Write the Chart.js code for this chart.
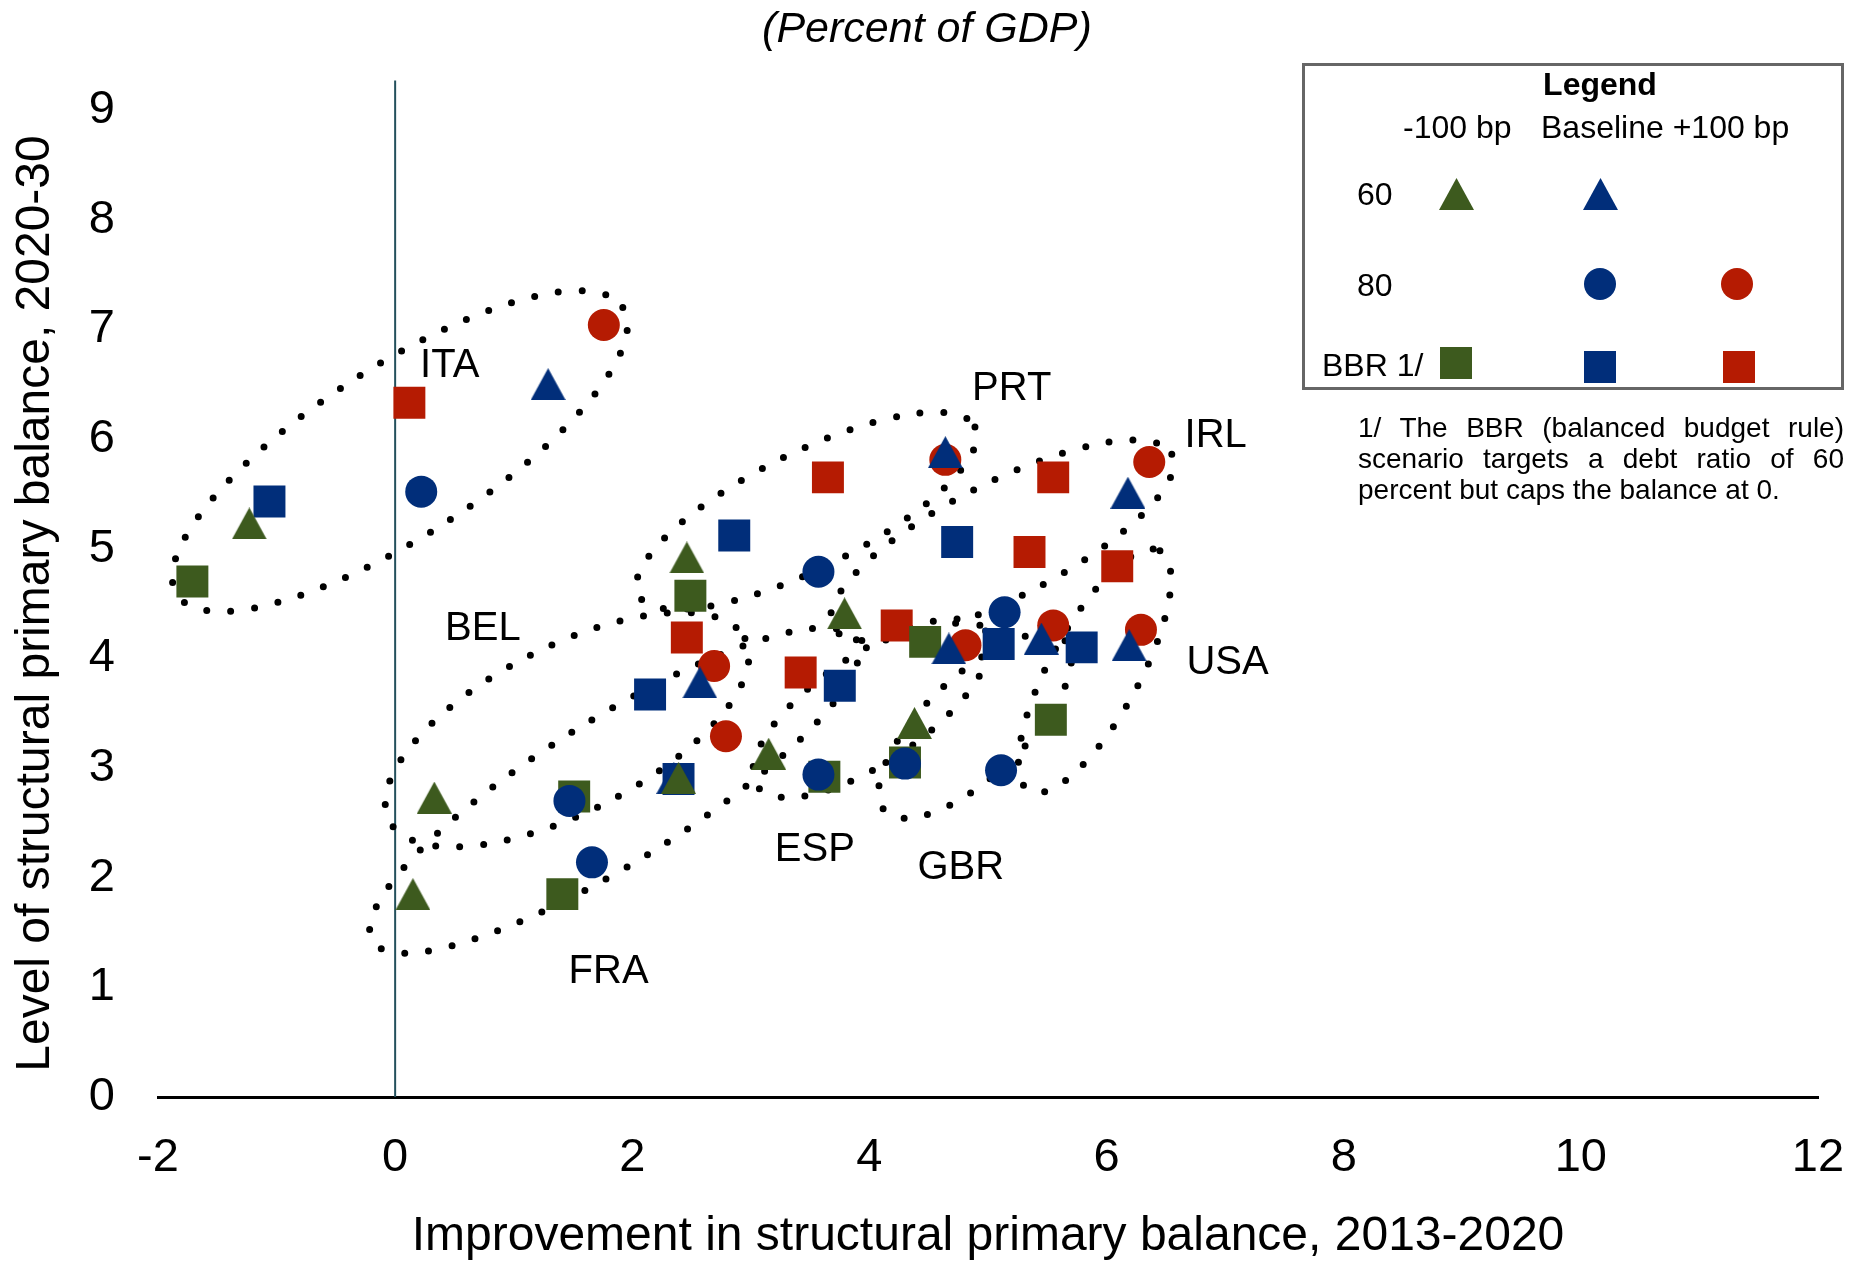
<!DOCTYPE html>
<html>
<head>
<meta charset="utf-8">
<script src="https://cdn.jsdelivr.net/npm/chart.js@4.4.0/dist/chart.umd.min.js"></script>
<style>
  html, body { margin: 0; padding: 0; background: #fff; }
  #wrap { position: relative; width: 1864px; height: 1261px; font-family: "Liberation Sans", Arial, sans-serif; color: #000; }
  #chart { position: absolute; left: 0; top: 0; }
  .title { position: absolute; left: 0; width: 1854px; top: 6px; text-align: center; font-style: italic; font-size: 43px; line-height: 1; }
  #legendBox { position: absolute; left: 1302px; top: 63px; width: 542px; height: 327px; box-sizing: border-box; border: 3px solid #666; }
  .lt { position: absolute; font-size: 32px; line-height: 1; white-space: nowrap; }
  .mk { position: absolute; }
  .tri { width: 35px; height: 32px; clip-path: polygon(50% 0, 100% 100%, 0 100%); }
  .sq { width: 32px; height: 32px; }
  .circ { width: 32px; height: 32px; border-radius: 50%; }
  .note { position: absolute; left: 1358px; top: 412px; width: 486px; font-size: 28px; line-height: 31px; text-align: justify; }
</style>
</head>
<body>
<div id="wrap">
  <canvas id="chart" width="1864" height="1261"></canvas>
  <div class="title">(Percent of GDP)</div>
  <div id="legendBox"></div>
  <div class="lt" style="left:1600px; top:68px; transform:translateX(-50%); font-weight:bold;">Legend</div>
  <div class="lt" style="left:1403px; top:111px;">-100 bp</div>
  <div class="lt" style="left:1541px; top:111px;">Baseline +100 bp</div>
  <div class="lt" style="left:1357px; top:178px;">60</div>
  <div class="lt" style="left:1357px; top:269px;">80</div>
  <div class="lt" style="left:1322px; top:349px;">BBR 1/</div>
  <div class="mk tri" style="left:1439px; top:178px; background:#3d5a1e;"></div>
  <div class="mk tri" style="left:1583px; top:178px; background:#012e7a;"></div>
  <div class="mk circ" style="left:1584px; top:268px; background:#012e7a;"></div>
  <div class="mk circ" style="left:1721px; top:268px; background:#b51b02;"></div>
  <div class="mk sq" style="left:1440px; top:347px; background:#3d5a1e;"></div>
  <div class="mk sq" style="left:1584px; top:351px; background:#012e7a;"></div>
  <div class="mk sq" style="left:1723px; top:351px; background:#b51b02;"></div>
  <div class="note">1/ The BBR (balanced budget rule) scenario targets a debt ratio of 60 percent but caps the balance at 0.</div>
</div>
<script>
// x = improvement in structural primary balance 2013-2020, y = level 2020-30
// 60 percent debt target, -100 bp (green triangles)
const tri60LowX = [-1.23, 2.46, 3.79, 0.33, 0.15, 2.39, 3.15, 4.38];
const tri60LowY = [5.23, 4.92, 4.41, 2.73, 1.85, 2.91, 3.13, 3.41];
// 60 percent, baseline (blue triangles)
const tri60BaseX = [1.29, 4.64, 6.18, 2.57, 2.35, 4.67, 5.45, 6.19];
const tri60BaseY = [6.50, 5.88, 5.51, 3.78, 2.91, 4.09, 4.18, 4.12];
// 80 percent, baseline (blue circles)
const circ80BaseX = [0.22, 3.57, 5.14, 1.47, 1.66, 3.57, 4.30, 5.11];
const circ80BaseY = [5.52, 4.79, 4.42, 2.70, 2.14, 2.94, 3.04, 2.98];
// 80 percent, +100 bp (red circles)
const circ80HighX = [1.76, 4.64, 6.36, 2.69, 2.79, 4.81, 5.55, 6.29];
const circ80HighY = [7.04, 5.81, 5.79, 3.93, 3.29, 4.12, 4.30, 4.26];
// BBR, -100 bp (green squares)
const bbrLowX = [-1.71, 2.49, 4.47, 1.51, 1.41, 3.62, 4.30, 5.53];
const bbrLowY = [4.70, 4.57, 4.15, 2.74, 1.85, 2.92, 3.05, 3.44];
// BBR, baseline (blue squares)
const bbrBaseX = [-1.06, 2.86, 4.74, 2.15, 2.39, 3.75, 5.09, 5.79];
const bbrBaseY = [5.43, 5.12, 5.06, 3.67, 2.90, 3.75, 4.13, 4.10];
// BBR, +100 bp (red squares)
const bbrHighX = [0.12, 3.65, 5.55, 2.46, 3.42, 4.23, 5.35, 6.09];
const bbrHighY = [6.33, 5.65, 5.65, 4.19, 3.87, 4.30, 4.97, 4.84];

const countries = ['ITA', 'PRT', 'IRL', 'BEL', 'FRA', 'ESP', 'GBR', 'USA'];
const labelX = [0.46, 5.20, 6.92, 0.74, 1.80, 3.54, 4.77, 7.02];
const labelY = [6.67, 6.46, 6.03, 4.27, 1.14, 2.25, 2.09, 3.96];

// dotted country groups: ends of the long axis (data units) and half width (px)
const groups = [
  { x1: -1.84, y1: 4.58, x2: 1.92, y2: 7.20, w: 85 },   // ITA
  { x1: 2.05, y1: 4.58, x2: 4.89, y2: 6.11, w: 58 },    // PRT
  { x1: 3.69, y1: 4.29, x2: 6.55, y2: 5.86, w: 58 },    // IRL
  { x1: -0.05, y1: 2.52, x2: 2.95, y2: 4.18, w: 83 },   // BEL
  { x1: -0.19, y1: 1.42, x2: 3.89, y2: 4.17, w: 72 },   // FRA
  { x1: 3.05, y1: 2.84, x2: 4.98, y2: 4.25, w: 54 },    // ESP
  { x1: 4.13, y1: 2.61, x2: 5.65, y2: 4.16, w: 50 },    // GBR
  { x1: 5.35, y1: 2.79, x2: 6.45, y2: 4.98, w: 45 }     // USA
];

const GREEN = '#3d5a1e';
const BLUE = '#012e7a';
const RED = '#b51b02';

// triangle marker as a small canvas so it sits centred on its value
function triangleImage(color) {
  const c = document.createElement('canvas');
  c.width = 35;
  c.height = 32;
  const g = c.getContext('2d');
  g.fillStyle = color;
  g.beginPath();
  g.moveTo(17.5, 0);
  g.lineTo(35, 32);
  g.lineTo(0, 32);
  g.closePath();
  g.fill();
  return c;
}

function pts(xs, ys) {
  return xs.map((v, i) => ({ x: v, y: ys[i] }));
}

function series(label, xs, ys, style, radius, color) {
  return {
    label: label,
    data: pts(xs, ys),
    pointStyle: style,
    pointRadius: radius,
    pointHoverRadius: radius,
    backgroundColor: color,
    borderColor: color,
    borderWidth: 0
  };
}

const overlay = {
  id: 'overlay',
  beforeDatasetsDraw(chart) {
    const ctx = chart.ctx;
    const x = chart.scales.x, y = chart.scales.y;
    ctx.save();
    // vertical line at zero
    ctx.strokeStyle = '#24505c';
    ctx.lineWidth = 2;
    ctx.beginPath();
    ctx.moveTo(x.getPixelForValue(0), y.getPixelForValue(0));
    ctx.lineTo(x.getPixelForValue(0), y.getPixelForValue(9.27));
    ctx.stroke();
    // dotted ellipses
    ctx.strokeStyle = '#000';
    ctx.lineWidth = 7;
    ctx.lineCap = 'round';
    ctx.setLineDash([0, 24]);
    groups.forEach(g => {
      const ax = x.getPixelForValue(g.x1), ay = y.getPixelForValue(g.y1);
      const bx = x.getPixelForValue(g.x2), by = y.getPixelForValue(g.y2);
      const a = Math.hypot(bx - ax, by - ay) / 2;
      const rot = Math.atan2(by - ay, bx - ax);
      ctx.beginPath();
      ctx.ellipse((ax + bx) / 2, (ay + by) / 2, a, g.w, rot, 0, Math.PI * 2);
      ctx.stroke();
    });
    ctx.restore();
  },
  afterDatasetsDraw(chart) {
    const ctx = chart.ctx;
    const x = chart.scales.x, y = chart.scales.y;
    ctx.save();
    ctx.fillStyle = '#000';
    ctx.font = '40px "Liberation Sans", Arial, sans-serif';
    ctx.textAlign = 'center';
    ctx.textBaseline = 'middle';
    countries.forEach((c, i) => {
      ctx.fillText(c, x.getPixelForValue(labelX[i]), y.getPixelForValue(labelY[i]));
    });
    ctx.restore();
  }
};

new Chart(document.getElementById('chart').getContext('2d'), {
  type: 'scatter',
  data: {
    datasets: [
      series('60, -100 bp', tri60LowX, tri60LowY, triangleImage(GREEN), 20, GREEN),
      series('60, Baseline', tri60BaseX, tri60BaseY, triangleImage(BLUE), 20, BLUE),
      series('80, Baseline', circ80BaseX, circ80BaseY, 'circle', 16, BLUE),
      series('80, +100 bp', circ80HighX, circ80HighY, 'circle', 16, RED),
      series('BBR, Baseline', bbrBaseX, bbrBaseY, 'rect', 22.6, BLUE),
      series('BBR, -100 bp', bbrLowX, bbrLowY, 'rect', 22.6, GREEN),
      series('BBR, +100 bp', bbrHighX, bbrHighY, 'rect', 22.6, RED)
    ]
  },
  options: {
    responsive: false,
    animation: false,
    layout: { padding: { top: 110, right: 46, left: 0, bottom: 0 } },
    plugins: {
      legend: { display: false },
      tooltip: { enabled: false }
    },
    scales: {
      x: {
        type: 'linear',
        min: -2,
        max: 12,
        ticks: { stepSize: 2, color: '#000', padding: 33, font: { family: '"Liberation Sans", Arial, sans-serif', size: 47 } },
        grid: { display: false, drawTicks: false },
        border: { display: true, color: '#000', width: 3 },
        title: {
          display: true,
          text: 'Improvement in structural primary balance, 2013-2020',
          color: '#000',
          padding: { top: 0, bottom: 0 },
          font: { family: '"Liberation Sans", Arial, sans-serif', size: 48, lineHeight: 1 }
        },
        afterFit(scale) {
          scale.height = 164;
          scale.paddingLeft = 0;
          scale.paddingRight = 0;
        }
      },
      y: {
        type: 'linear',
        min: 0,
        max: 9,
        ticks: { stepSize: 1, color: '#000', padding: 43, font: { family: '"Liberation Sans", Arial, sans-serif', size: 47 } },
        grid: { display: false, drawTicks: false },
        border: { display: false },
        title: {
          display: true,
          text: 'Level of structural primary balance, 2020-30',
          color: '#000',
          padding: { top: 12, bottom: 0 },
          font: { family: '"Liberation Sans", Arial, sans-serif', size: 48, lineHeight: 1 }
        },
        afterFit(scale) { scale.width = 158; }
      }
    }
  },
  plugins: [overlay]
});
</script>
</body>
</html>
